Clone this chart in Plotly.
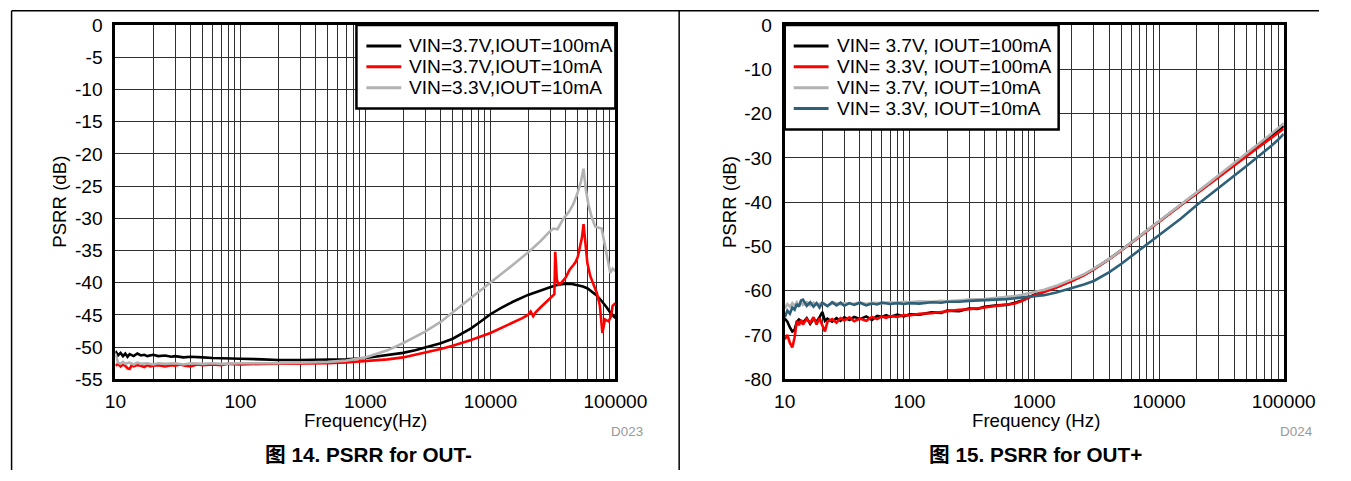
import plotly.graph_objects as go

W, H = 1351, 481

# ---------------- Left chart (OUT-) data ----------------
l_black_f = [10, 10.5, 11, 11.5, 12, 12.5, 13, 14, 15, 16, 17, 18, 20, 22, 25, 28, 30, 35, 40, 45, 50,
             60, 70, 80, 100, 150, 200, 300, 500, 700, 1000, 1500, 2000, 2500, 3000, 4000, 5000, 6000,
             7000, 8000, 10000, 12000, 15000, 20000, 25000, 30000, 35000, 40000, 45000, 50000, 55000,
             60000, 65000, 70000, 75000, 80000, 85000, 90000, 95000, 100000]
l_black_v = [-50.6, -51.3, -50.9, -51.4, -51.0, -51.5, -51.1, -51.4, -51.0, -51.3, -51.2, -51.4, -51.2,
             -51.4, -51.3, -51.5, -51.4, -51.6, -51.5, -51.6, -51.6, -51.7, -51.7, -51.8, -51.8, -51.9,
             -52.0, -52.0, -52.0, -51.9, -51.7, -51.3, -50.9, -50.5, -50.1, -49.4, -48.7, -47.9, -47.1,
             -46.3, -44.9, -44.0, -43.0, -41.9, -41.2, -40.7, -40.3, -40.15, -40.2, -40.35, -40.6,
             -40.9, -41.4, -41.9, -42.5, -43.1, -43.8, -44.5, -45.0, -45.5]

l_red_f = [10, 10.5, 11, 11.5, 12, 12.5, 13, 13.5, 14, 15, 16, 17, 18, 19, 20, 22, 25, 28, 30, 33, 36,
           40, 45, 50, 60, 70, 80, 100, 150, 200, 300, 500, 700, 1000, 1500, 2000, 3000, 4000, 5000,
           7000, 10000, 12000, 15000, 18000, 20000, 21000, 22000, 23000, 25000, 28000, 31000, 32500,
           33000, 34000, 35000, 37000, 40000, 43000, 46000, 48000, 50000, 52000, 54000, 55600, 57500,
           59700, 63000, 67000, 71000, 75000, 78700, 82500, 88000, 92000, 95000, 100000]
l_red_v = [-52.9, -52.6, -53.0, -52.7, -52.9, -53.3, -53.4, -52.8, -53.0, -52.8, -52.9, -53.1, -52.8,
           -53.0, -52.9, -52.8, -53.0, -52.8, -52.9, -52.7, -52.9, -53.0, -52.7, -52.8, -52.7, -52.8,
           -52.6, -52.7, -52.6, -52.6, -52.5, -52.5, -52.4, -52.2, -51.9, -51.6, -50.9, -50.3, -49.8,
           -48.9, -47.8, -47.1, -46.3, -45.5, -45.0, -44.5, -45.2, -44.6, -43.9, -43.0, -42.2, -41.8,
           -35.2, -39.5, -40.3, -40.0, -39.2, -38.0, -37.3, -36.8, -36.0, -34.7, -33.0, -30.9, -34.4,
           -37.0, -39.0, -40.3, -41.6, -43.5, -47.8, -45.7, -46.0, -45.3, -43.6, -43.2]

l_gray_f = [10, 10.5, 11, 11.5, 12, 13, 14, 15, 16, 18, 20, 22, 25, 30, 35, 40, 50, 60, 70, 100, 200,
            300, 500, 700, 1000, 1500, 2000, 3000, 4000, 5000, 7000, 10000, 15000, 20000, 25000, 30000,
            32000, 34400, 38000, 42500, 46000, 49500, 53000, 55600, 58000, 61000, 65000, 69000, 73000,
            77600, 82000, 86500, 91000, 95000, 100000]
l_gray_v = [-51.0, -52.4, -52.6, -52.3, -52.6, -52.4, -52.7, -52.4, -52.6, -52.5, -52.7, -52.5, -52.6,
            -52.5, -52.7, -52.5, -52.6, -52.5, -52.6, -52.5, -52.5, -52.4, -52.3, -52.1, -51.6, -50.5,
            -49.4, -47.6, -46.1, -44.6, -42.4, -40.0, -37.3, -35.3, -33.6, -32.0, -31.6, -31.7, -30.2,
            -29.0, -27.8, -26.2, -24.3, -22.3, -25.5, -28.0, -30.0, -31.3, -31.4, -31.6, -34.0, -36.5,
            -38.5, -37.8, -38.2]

# ---------------- Right chart (OUT+) data ----------------
r_black_f = [10, 10.5, 11, 11.5, 12, 12.5, 13, 14, 15, 16, 17, 18, 19, 20, 21, 22, 24, 26, 28, 30, 33,
             36, 40, 45, 50, 55, 60, 65, 70, 80, 90, 100, 120, 150, 180, 200, 250, 300, 350, 400, 500,
             600, 700, 800, 1000, 1200, 1500, 2000, 2500, 3000, 4000, 5000, 6000, 7000, 8000, 10000,
             12000, 15000, 20000, 25000, 30000, 40000, 50000, 60000, 70000, 80000, 90000, 100000]
r_black_v = [-66.3, -67.0, -68.3, -69.2, -68.8, -67.0, -66.5, -67.2, -66.2, -67.5, -66.4, -67.0, -66.0,
             -64.8, -66.8, -66.3, -67.0, -66.2, -66.8, -66.0, -66.6, -65.9, -66.4, -65.8, -66.6, -65.7,
             -65.9, -65.5, -65.9, -65.4, -65.8, -65.3, -65.4, -64.9, -65.0, -64.5, -64.6, -64.0, -64.1,
             -63.6, -63.3, -63.2, -62.7, -62.2, -60.9, -60.2, -59.2, -57.7, -56.4, -55.1, -52.8, -50.8,
             -49.1, -47.6, -46.3, -44.3, -42.7, -40.6, -38.0, -35.9, -34.2, -31.5, -29.4, -27.7, -26.2,
             -25.0, -23.8, -22.8]

r_red_f = [10, 10.5, 11, 11.5, 12, 12.5, 13, 13.5, 14, 15, 16, 17, 18, 19, 20, 21, 22, 24, 26, 28, 30,
           33, 36, 40, 45, 50, 55, 60, 65, 70, 80, 90, 100, 120, 150, 180, 200, 250, 300, 350, 400, 500,
           600, 700, 800, 1000, 1200, 1500, 2000, 2500, 3000, 4000, 5000, 6000, 7000, 8000, 10000,
           12000, 15000, 20000, 25000, 30000, 40000, 50000, 60000, 70000, 80000, 90000, 100000]
r_red_v = [-71.0, -70.0, -71.8, -72.8, -70.5, -66.8, -67.8, -66.6, -67.6, -66.4, -67.2, -66.0, -67.6,
           -66.2, -67.8, -69.2, -67.0, -66.4, -67.2, -66.2, -66.7, -66.0, -66.9, -66.3, -66.8, -65.9,
           -66.4, -65.8, -66.1, -65.7, -65.9, -65.5, -65.6, -65.2, -65.1, -64.8, -64.7, -64.3, -64.2,
           -63.9, -63.8, -63.4, -63.2, -62.9, -62.3, -61.0, -60.3, -59.3, -57.8, -56.5, -55.2, -52.9,
           -50.9, -49.2, -47.7, -46.4, -44.4, -42.8, -40.7, -38.1, -36.1, -34.4, -31.8, -29.7, -28.0,
           -26.6, -25.4, -24.3, -23.4]

r_gray_f = [10, 10.5, 11, 11.5, 12, 12.5, 13, 13.5, 14, 15, 16, 17, 18, 20, 22, 25, 28, 30, 35, 40, 45,
            50, 60, 70, 80, 90, 100, 120, 150, 180, 200, 250, 300, 400, 500, 600, 700, 800, 1000, 1200,
            1500, 2000, 2500, 3000, 4000, 5000, 6000, 7000, 8000, 10000, 12000, 15000, 20000, 25000,
            30000, 40000, 50000, 60000, 70000, 80000, 90000, 100000]
r_gray_v = [-64.0, -63.0, -63.6, -62.8, -63.4, -62.6, -63.5, -62.5, -63.2, -62.6, -63.3, -62.7, -63.1,
            -62.8, -63.3, -62.7, -63.1, -62.8, -63.0, -62.6, -63.0, -62.7, -62.8, -62.6, -62.7, -62.5,
            -62.6, -62.4, -62.5, -62.3, -62.4, -62.1, -62.0, -61.9, -61.6, -61.5, -61.2, -60.9, -60.3,
            -59.8, -58.9, -57.5, -56.3, -55.0, -52.8, -50.8, -49.1, -47.6, -46.3, -44.3, -42.6, -40.5,
            -37.8, -35.7, -33.9, -31.2, -29.0, -27.3, -25.8, -24.5, -23.3, -22.2]

r_blue_f = [10, 10.5, 11, 11.5, 12, 12.5, 13, 13.5, 14, 15, 16, 17, 18, 19, 20, 22, 24, 26, 28, 30, 33,
            36, 40, 45, 50, 55, 60, 70, 80, 90, 100, 120, 150, 180, 200, 250, 300, 400, 500, 600, 700,
            800, 1000, 1200, 1500, 2000, 2500, 3000, 4000, 5000, 6000, 7000, 8000, 10000, 12000, 15000,
            20000, 25000, 30000, 40000, 50000, 60000, 70000, 80000, 90000, 100000]
r_blue_v = [-66.0, -64.5, -65.2, -63.8, -64.3, -63.0, -63.6, -62.2, -62.0, -63.4, -62.6, -63.6, -62.8,
            -63.8, -62.7, -63.5, -62.6, -63.3, -62.7, -63.4, -62.8, -63.2, -62.7, -63.3, -62.9, -63.1,
            -62.7, -63.0, -62.8, -63.0, -62.8, -62.9, -62.6, -62.7, -62.5, -62.5, -62.3, -62.2, -62.0,
            -61.9, -61.7, -61.5, -61.2, -61.0, -60.4, -59.4, -58.6, -57.8, -55.8, -53.9, -52.2, -50.8,
            -49.5, -47.6, -45.9, -43.7, -40.7, -38.6, -36.9, -34.2, -31.9, -30.1, -28.6, -27.2, -25.9,
            -24.6]

left_names = ["VIN=3.7V,IOUT=100mA", "VIN=3.7V,IOUT=10mA", "VIN=3.3V,IOUT=10mA"]
right_names = ["VIN= 3.7V, IOUT=100mA", "VIN= 3.3V, IOUT=100mA", "VIN= 3.7V, IOUT=10mA",
               "VIN= 3.3V, IOUT=10mA"]

x_ticks = [10, 100, 1000, 10000, 100000]
x_tick_text = ["10", "100", "1000", "10000", "100000"]
minor_vals = [m * d for d in [10, 100, 1000, 10000] for m in range(2, 10)]

left_y_ticks = list(range(-55, 1, 5))
left_y_text = [str(v) for v in left_y_ticks]
right_y_ticks = list(range(-80, 1, 10))
right_y_text = [str(v) for v in right_y_ticks]

C_BLACK = "#000000"
C_RED = "#ff0000"
C_GRAY = "#b2b2b2"
C_BLUE = "#2f6079"
left_colors = [C_BLACK, C_RED, C_GRAY]
right_colors = [C_BLACK, C_RED, C_GRAY, C_BLUE]

FONT = "Liberation Sans, Arial, Noto Sans CJK SC, sans-serif"

# the photographed page appears slightly shrunk and offset; place layout so that
# the photo lands on the reference pixel positions
SX, SY, OX, OY = 0.972, 0.961, 8.2, 8.9
FS = 1 / 0.966


def px(x):
    return max((x - OX) / SX, 0.6) / W


def py(y):
    return 1 - max((y - OY) / SY, 0.8) / H


fig = go.Figure()

lw = 2.6
for f, v, n, c in zip([l_black_f, l_red_f, l_gray_f], [l_black_v, l_red_v, l_gray_v],
                      left_names, left_colors):
    fig.add_trace(go.Scatter(x=f, y=v, name=n, mode="lines", line=dict(color=c, width=lw),
                             xaxis="x", yaxis="y", showlegend=False))

for f, v, n, c in zip([r_black_f, r_red_f, r_gray_f, r_blue_f], [r_black_v, r_red_v, r_gray_v, r_blue_v],
                      right_names, right_colors):
    fig.add_trace(go.Scatter(x=f, y=v, name=n, mode="lines", line=dict(color=c, width=lw),
                             xaxis="x2", yaxis="y2", showlegend=False))

GRID = "#303030"
GW = 1.2
TICKFONT = dict(size=18.5 * FS, color="black", family=FONT)


def xaxis(domain, anchor):
    return dict(type="log", range=[1, 5], domain=domain, anchor=anchor,
                tickvals=x_ticks, ticktext=x_tick_text, showgrid=True, gridcolor=GRID, gridwidth=GW,
                minor=dict(tickvals=minor_vals, showgrid=True, gridcolor=GRID, gridwidth=GW),
                showline=True, linecolor="black", linewidth=3, mirror=True, ticks="",
                tickfont=TICKFONT, zeroline=False, ticklabelstandoff=3)


def yaxis(domain, anchor, rng, vals, text):
    return dict(range=rng, domain=domain, anchor=anchor, tickvals=vals, ticktext=text,
                showgrid=True, gridcolor=GRID, gridwidth=GW, showline=True, linecolor="black",
                linewidth=3, mirror=True, ticks="", zeroline=False,
                tickfont=TICKFONT, ticklabelstandoff=6)


yd = [py(380), py(24)]
fig.update_layout(
    width=W, height=H, autosize=False, margin=dict(l=0, r=0, t=0, b=0, pad=0),
    paper_bgcolor="white", plot_bgcolor="white",
    font=dict(family=FONT, color="black"),
    xaxis=xaxis([px(113), px(615)], "y"),
    yaxis=yaxis(yd, "x", [-55, 0], left_y_ticks, left_y_text),
    xaxis2=xaxis([px(785), px(1286)], "y2"),
    yaxis2=yaxis(yd, "x2", [-80, 0], right_y_ticks, right_y_text),
    showlegend=False,
)


def ann(x, y, text, size, color="black", angle=0, xanchor="center"):
    fig.add_annotation(x=px(x), y=py(y), xref="paper", yref="paper", text=text,
                       showarrow=False, textangle=angle, xanchor=xanchor, yanchor="middle",
                       font=dict(size=size * FS, color=color, family=FONT))


# legends (box, line samples, labels)
def legend(x0, x1, y0, y1, lx0, lx1, tx, rows, names, colors):
    fig.add_shape(type="rect", xref="paper", yref="paper", x0=px(x0), x1=px(x1), y0=py(y1), y1=py(y0),
                  fillcolor="white", line=dict(color="black", width=2.5), layer="above")
    for r, n, c in zip(rows, names, colors):
        fig.add_shape(type="line", xref="paper", yref="paper", x0=px(lx0), x1=px(lx1), y0=py(r), y1=py(r),
                      line=dict(color=c, width=3), layer="above")
        ann(tx, r, n, 18.5, xanchor="left")


legend(355, 615, 24, 108, 365, 400, 406, [45, 66, 87], left_names, left_colors)
legend(785, 1060, 24, 129, 794, 829, 835, [45, 66, 87, 108], right_names, right_colors)

ann(57, 202, "PSRR (dB)", 18, angle=-90)
ann(364, 421, "Frequency(Hz)", 18)
ann(627, 432, "D023", 13, color="#999999")
ann(367, 456, "<b>图 14. PSRR for OUT-</b>", 20)

ann(729, 202, "PSRR (dB)", 18, angle=-90)
ann(1037, 421, "Frequency (Hz)", 18)
ann(1299, 432, "D024", 13, color="#999999")
ann(1037, 456, "<b>图 15. PSRR for OUT+</b>", 20)

# panel frame
fig.add_shape(type="line", xref="paper", yref="paper", x0=px(7), x1=px(7), y0=0, y1=py(8),
              line=dict(color="black", width=1.5))
fig.add_shape(type="line", xref="paper", yref="paper", x0=px(679), x1=px(679), y0=0, y1=py(8),
              line=dict(color="black", width=1.5))
fig.add_shape(type="line", xref="paper", yref="paper", x0=px(7), x1=1.0, y0=py(8), y1=py(8),
              line=dict(color="black", width=1.5))

POST = ("var s=document.documentElement.style;s.margin='0';s.padding='0';s.overflow='hidden';"
        "var b=document.body.style;b.margin='0';b.padding='0';b.overflow='hidden';")

fig.write_html("out.html", config={"displayModeBar": False, "responsive": False},
               post_script=POST)
